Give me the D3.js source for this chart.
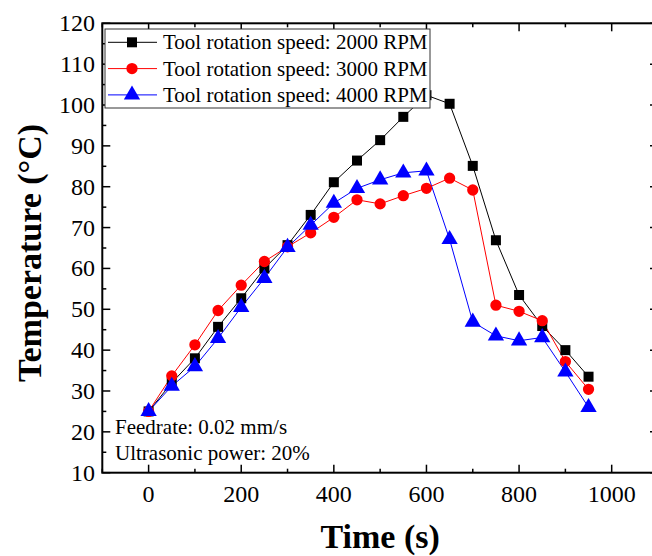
<!DOCTYPE html>
<html><head><meta charset="utf-8">
<script src="https://cdn.jsdelivr.net/npm/d3@7"></script>
<style>body{margin:0;background:#fff}svg{display:block}text{font-family:"Liberation Serif","Times New Roman",serif}</style>
</head><body>
<script>
const times = [0,50,100,150,200,250,300,350,400,450,500,550,600,650,700,750,800,850,900,950];
const rpm2000 = [25,32,38,45.7,52.7,60,65.7,73.1,81.1,86.4,91.4,97.1,102.4,100.3,85.1,66.9,53.5,45.9,40,33.5];
const rpm3000 = [25,33.7,41.3,49.7,55.9,61.7,65.3,68.7,72.5,76.8,75.8,77.8,79.6,82.1,79.2,51,49.5,47.2,37.2,30.4];
const rpm4000 = [25,31.2,36,42.9,50.5,57.6,65.2,70.6,76,79.6,81.7,83.4,83.9,67.1,46.9,43.5,42.3,43.1,34.7,26];
const seriesNames = ["Tool rotation speed: 2000 RPM","Tool rotation speed: 3000 RPM","Tool rotation speed: 4000 RPM"];
const seriesColors = ["#000000","#ff0000","#0000ff"];
const xTicks = [0,200,400,600,800,1000];
const yTicks = [10,20,30,40,50,60,70,80,90,100,110,120];
const notes = ["Feedrate: 0.02 mm/s","Ultrasonic power: 20%"];

const W=652,H=556;
const svg=d3.select("body").append("svg").attr("width",W).attr("height",H);
const x=d3.scaleLinear().domain([-100,1100]).range([102.3,658]);
const y=d3.scaleLinear().domain([10,120]).range([472.7,23.3]);
const L=102.3,R=658,T=23.3,B=472.7;

// ticks
const g=svg.append("g").attr("stroke","#000");
const xMinor=d3.range(-100,1101,100), yMinor=d3.range(10,121,5);
xMinor.forEach(v=>{const len=(v%200===0)?8:4;
  g.append("line").attr("x1",x(v)).attr("x2",x(v)).attr("y1",B).attr("y2",B-len).attr("stroke-width",1.5);
  g.append("line").attr("x1",x(v)).attr("x2",x(v)).attr("y1",T).attr("y2",T+len).attr("stroke-width",1.5);
});
yMinor.forEach(v=>{const len=(v%10===0)?8:4;
  g.append("line").attr("x1",L).attr("x2",L+len).attr("y1",y(v)).attr("y2",y(v)).attr("stroke-width",1.5);
  g.append("line").attr("x1",R).attr("x2",R-len).attr("y1",y(v)).attr("y2",y(v)).attr("stroke-width",1.5);
});
svg.append("rect").attr("x",L).attr("y",T).attr("width",R-L).attr("height",B-T).attr("fill","none").attr("stroke","#000").attr("stroke-width",2);

svg.selectAll(".xl").data(xTicks).enter().append("text").attr("x",d=>x(d)).attr("y",502).attr("text-anchor","middle").attr("font-size",24).text(d=>d);
svg.selectAll(".yl").data(yTicks).enter().append("text").attr("x",95).attr("y",d=>y(d)+8).attr("text-anchor","end").attr("font-size",24).text(d=>d);

svg.append("text").attr("x",(L+R)/2).attr("y",548).attr("text-anchor","middle").attr("font-size",34).attr("font-weight","bold").text("Time (s)");
svg.append("text").attr("transform",`translate(41,253) rotate(-90)`).attr("text-anchor","middle").attr("font-size",34).attr("font-weight","bold").text("Temperature (°C)");

const symbols=[d3.symbolSquare,d3.symbolCircle,d3.symbolTriangle];
const sizes=[100,100,115];
const allData=[rpm2000,rpm3000,rpm4000];
const line=d3.line().x(d=>x(d[0])).y(d=>y(d[1]));
allData.forEach((vals,i)=>{
  const pts=times.map((t,j)=>[t,vals[j]]);
  svg.append("path").attr("d",line(pts)).attr("fill","none").attr("stroke",seriesColors[i]).attr("stroke-width",1);
});
allData.forEach((vals,i)=>{
  svg.append("g").selectAll("path").data(times.map((t,j)=>[t,vals[j]])).enter().append("path")
    .attr("d",d3.symbol().type(symbols[i]).size(sizes[i])).attr("transform",d=>`translate(${x(d[0])},${y(d[1])})`).attr("fill",seriesColors[i]);
});

// legend
const lg=svg.append("g");
lg.append("rect").attr("x",105).attr("y",29).attr("width",325).attr("height",79).attr("fill","#fff").attr("stroke","#333").attr("stroke-width",1);
seriesNames.forEach((n,i)=>{
  const cy=42.3+i*26.3;
  lg.append("line").attr("x1",108).attr("x2",157).attr("y1",cy).attr("y2",cy).attr("stroke",seriesColors[i]).attr("stroke-width",1);
  lg.append("path").attr("d",d3.symbol().type(symbols[i]).size(sizes[i])).attr("transform",`translate(132,${cy})`).attr("fill",seriesColors[i]);
  lg.append("text").attr("x",163).attr("y",cy+7).attr("font-size",21).text(n);
});
notes.forEach((n,i)=>{
  svg.append("text").attr("x",115).attr("y",433.5+i*26.5).attr("font-size",21).text(n);
});
</script>
</body></html>
